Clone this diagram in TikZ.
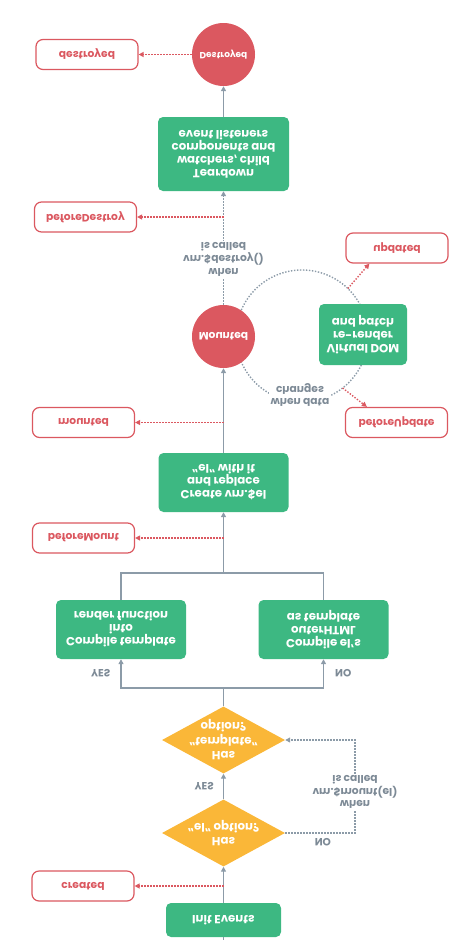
\documentclass[tikz,border=0pt]{standalone}
\usepackage{fontspec}
\setmainfont{Poppins}
\usetikzlibrary{arrows.meta,positioning,shapes.geometric,backgrounds}

\definecolor{vuegreen}{RGB}{61,184,130}
\definecolor{vuered}{RGB}{219,88,96}
\definecolor{vueorange}{RGB}{250,183,56}
\definecolor{linegray}{RGB}{140,155,168}
\definecolor{labelgray}{RGB}{125,138,150}

\tikzset{
    every node/.style = {font=\fontsize{10.7}{12.7}\selectfont\bfseries, align=center},
    process/.style = {rectangle, rounded corners=5pt, fill=vuegreen, text=white, inner sep=0pt,
        font=\fontsize{11.8}{12.9}\selectfont\bfseries},
    phase/.style = {circle, fill=vuered, text=white, minimum size=63pt, inner sep=0pt},
    choice/.style = {diamond, fill=vueorange, text=white, aspect=1.83, inner sep=-4pt,
        minimum width=123pt, minimum height=67pt, font=\fontsize{11.8}{14.5}\selectfont\bfseries},
    hook/.style = {rectangle, rounded corners=7pt, draw=vuered, line width=1.2pt, fill=white,
        text=vuered, minimum width=102pt, minimum height=30pt, inner sep=0pt},
    gaplabel/.style = {fill=white, text=labelgray, inner sep=1.5pt},
    branch/.style = {text=labelgray, inner sep=0pt, font=\fontsize{10.5}{11}\selectfont\bfseries},
    flow/.style = {draw=linegray, line width=1.4pt},
    waitline/.style = {draw=linegray, line width=1.4pt, dash pattern=on 1.4pt off 1.6pt},
    hookline/.style = {draw=vuered, line width=1.4pt, dash pattern=on 1.4pt off 1.6pt}
}

\begin{document}
\begin{tikzpicture}[
    x = 1pt, y = 1pt,
    yscale = -1, transform shape, % whole chart mirrored top to bottom
    > = {Triangle[length=5pt,width=5pt]}
    ]
    \useasboundingbox (0,0) rectangle (456,940);

    % main column
    \node[process, minimum width=115pt, minimum height=34pt] (init) at (223.5,920) {Init Events};
    \node[choice] (hasel) at (223.5,833) {Has\\“el” option?};
    \node[choice] (hastpl) at (223.5,740) {Has\\“template”\\option?};
    \node[process, minimum width=130pt, minimum height=59pt] (cmptpl) at (121,629.5) {Compile template\\into\\render function};
    \node[process, minimum width=130pt, minimum height=59pt] (cmpel) at (323.5,629.5) {Compile el’s\\outerHTML\\as template};
    \node[process, minimum width=130pt, minimum height=59pt] (create) at (223.5,482.5) {Create vm.\$el\\and replace\\“el” with it};
    \node[phase] (mountedc) at (223.5,336.5) {Mounted};
    \node[process, minimum width=88pt, minimum height=61pt] (vdom) at (363,334.5) {Virtual DOM\\re-render\\and patch};
    \node[process, minimum width=131pt, minimum height=74pt] (teardown) at (223.5,154) {Teardown\\watchers, child\\components and\\event listeners};
    \node[phase, font=\fontsize{9}{11}\selectfont\bfseries] (destroyedc) at (223.5,54.5) {Destroyed};

    % lifecycle hooks
    \node[hook] (createdhook) at (83,886) {created};
    \node[hook] (bmounthook) at (83.5,538) {beforeMount};
    \node[hook] (mountedhook) at (83.5,422.5) {mounted};
    \node[hook] (bdestroyhook) at (85.5,217) {beforeDestroy};
    \node[hook] (destroyedhook) at (87,54.5) {destroyed};
    \node[hook] (bupdatehook) at (396.5,422.5) {beforeUpdate};
    \node[hook] (updatedhook) at (397,248) {updated};

    \coordinate (newvue) at (223.5,940);
    \coordinate (noturn) at (355,833);
    \coordinate (fork) at (223.5,688);
    \coordinate (join) at (223.5,573);
    \coordinate (loopc) at (302,336);
    \coordinate (beforeupd) at ([shift={(52:66)}]loopc);
    \coordinate (afterupd) at ([shift={(-46:66)}]loopc);

    % update loop
    \begin{scope}[on background layer]
        \draw[waitline] (loopc) circle (66pt);
    \end{scope}
    \node[gaplabel] (datanote) at (300,395) {when data\\changes};

    \draw[flow] (newvue) -- (init);
    \draw[flow,->] (init) -- (hasel);
    \draw[flow,->] (hasel) -- node[branch, left=9pt]{YES} (hastpl);
    \draw[waitline,->] (hasel.east) -- node[branch, pos=0.54, above=5pt]{NO} (noturn)
        |- node[gaplabel, pos=0.22]{when\\vm.\$mount(el)\\is called} (hastpl.east);
    \draw[flow] (hastpl) -- (fork);
    \draw[flow,->] (fork) -| node[branch, pos=0.75, left=10pt]{YES} (cmptpl.north);
    \draw[flow,->] (fork) -| node[branch, pos=0.75, right=11pt]{NO} (cmpel.north);
    \draw[flow] (cmptpl.south) |- (join) -| (cmpel.south);
    \draw[flow,->] (join) -- (create);
    \draw[flow,->] (create) -- (mountedc);
    \draw[waitline,->] (mountedc) -- node[gaplabel, pos=0.4]{when\\vm.\$destroy()\\is called} (teardown);
    \draw[flow,->] (teardown) -- (destroyedc);

    \draw[hookline,->] (init |- createdhook) -- (createdhook);
    \draw[hookline,->] (create |- bmounthook) -- (bmounthook);
    \draw[hookline,->] (create |- mountedhook) -- (mountedhook);
    \draw[hookline,->] (teardown |- bdestroyhook) -- (bdestroyhook);
    \draw[hookline,->] (destroyedc) -- (destroyedhook);
    \draw[hookline,->] (beforeupd) -- ([xshift=22pt]bupdatehook.south west);
    \draw[hookline,->] (afterupd) -- ([xshift=24pt]updatedhook.north west);
\end{tikzpicture}
\end{document}
